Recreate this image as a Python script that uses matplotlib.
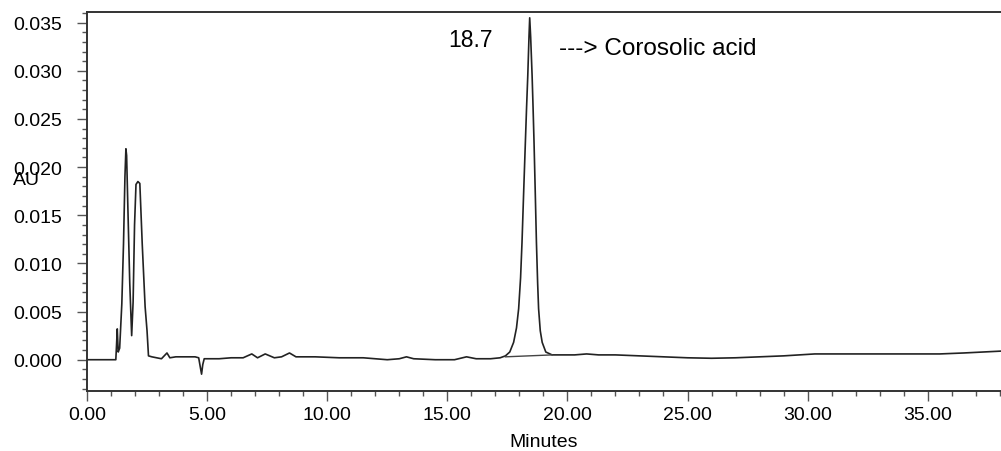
import numpy as np
import matplotlib
matplotlib.use("Agg")
import matplotlib.pyplot as plt
from matplotlib.ticker import MultipleLocator, FormatStrFormatter

# Chromatogram trace: time (min) and absorbance (AU)
time_min = [
    0.00, 0.60, 1.20, 1.23, 1.26, 1.30, 1.36, 1.45, 1.52, 1.58, 1.62, 1.65,
    1.70, 1.78, 1.86, 1.92, 1.98, 2.04, 2.12, 2.20, 2.30, 2.42, 2.50, 2.56,
    2.70, 2.90, 3.10, 3.33, 3.45, 3.70, 4.00, 4.50, 4.65, 4.72, 4.77, 4.82,
    4.88, 5.50, 6.00, 6.50, 6.86, 7.10, 7.42, 7.80, 8.10, 8.43, 8.70, 9.50,
    10.50, 11.50, 12.50, 13.00, 13.30, 13.60, 14.50, 15.30, 15.80, 16.20,
    16.80, 17.20, 17.42, 17.60, 17.76, 17.88, 17.97, 18.05, 18.11, 18.18,
    18.25, 18.30, 18.35, 18.40, 18.43, 18.47, 18.53, 18.57, 18.61, 18.66,
    18.71, 18.76, 18.80, 18.87, 18.95, 19.10, 19.36, 19.80, 20.30, 20.80,
    21.30, 22.00, 23.00, 24.00, 25.00, 26.00, 27.00, 28.00, 29.00, 30.30,
    31.50, 32.50, 34.00, 35.50, 36.50, 37.30, 38.10,
]
absorbance = [
    0.0000, 0.0000, 0.0000, 0.0015, 0.0032, 0.0008, 0.0012, 0.0058, 0.0120,
    0.0190, 0.0219, 0.0212, 0.0160, 0.0080, 0.0025, 0.0060, 0.0140, 0.0182,
    0.0185, 0.0183, 0.0120, 0.0055, 0.0030, 0.0004, 0.0003, 0.0002, 0.0001,
    0.0007, 0.0002, 0.0003, 0.0003, 0.0003, 0.0002, -0.0008, -0.0015,
    -0.0005, 0.0001, 0.0001, 0.0002, 0.0002, 0.0006, 0.0002, 0.0006, 0.0002,
    0.0003, 0.0007, 0.0003, 0.0003, 0.0002, 0.0002, 0.0000, 0.0001, 0.0003,
    0.0001, 0.0000, 0.0000, 0.0003, 0.0001, 0.0001, 0.0002, 0.0004, 0.0008,
    0.0018, 0.0033, 0.0053, 0.0085, 0.0122, 0.0175, 0.0226, 0.0262, 0.0295,
    0.0335, 0.0355, 0.0335, 0.0295, 0.0262, 0.0226, 0.0175, 0.0122, 0.0080,
    0.0053, 0.0030, 0.0018, 0.0008, 0.0005, 0.0005, 0.0005, 0.0006, 0.0005,
    0.0005, 0.0004, 0.0003, 0.0002, 0.00015, 0.0002, 0.0003, 0.0004, 0.0006,
    0.0006, 0.0006, 0.0006, 0.0006, 0.0007, 0.0008, 0.0009,
]

# integration baseline drawn under the main peak
base_t = [17.42, 19.36]
base_au = [0.0003, 0.0005]

peak_label = "18.7"
compound = "---> Corosolic acid"

plt.rcParams["font.family"] = ["Liberation Sans", "DejaVu Sans"]

fig = plt.figure(figsize=(10.01, 4.52), dpi=100)
ax = fig.add_axes([0.0869, 0.1327, 0.9131, 0.8385])

ax.plot(time_min, absorbance, color="#222222", lw=1.2)
ax.plot(base_t, base_au, color="#444444", lw=1.0)

ax.set_xlim(0, 38.05)
ax.set_ylim(-0.00325, 0.0361)

ax.xaxis.set_major_locator(MultipleLocator(5))
ax.xaxis.set_minor_locator(MultipleLocator(1))
ax.yaxis.set_major_locator(MultipleLocator(0.005))
ax.yaxis.set_minor_locator(MultipleLocator(0.001))
ax.xaxis.set_major_formatter(FormatStrFormatter("%.2f"))
ax.yaxis.set_major_formatter(FormatStrFormatter("%.3f"))

ax.tick_params(which="major", length=7, width=1.0, labelsize=14, color="#555555")
ax.tick_params(which="minor", length=3.6, width=1.0, color="#555555")
ax.tick_params(axis="y", which="major", pad=11)
ax.tick_params(axis="x", which="major", pad=4)

ax.spines["right"].set_visible(False)
for s in ["left", "bottom", "top"]:
    ax.spines[s].set_linewidth(1.4)
    ax.spines[s].set_color("#333333")

ax.set_xlabel("Minutes", fontsize=14, labelpad=7)
fig.text(13 / 1001, 1 - 185 / 452, "AU", fontsize=14, ha="left", va="baseline")

ax.text(15.04, 0.03257, peak_label, fontsize=16.5, ha="left", va="baseline")
ax.text(19.64, 0.03171, compound, fontsize=17.5, ha="left", va="baseline")

fig.savefig("out.png", dpi=100)
